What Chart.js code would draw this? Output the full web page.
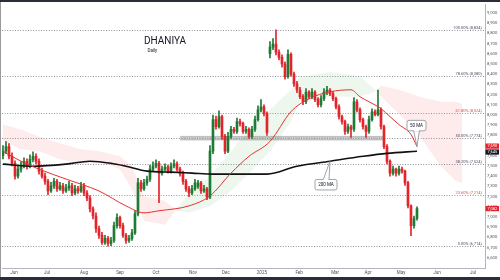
<!DOCTYPE html>
<html>
<head>
<meta charset="utf-8">
<script src="https://cdn.jsdelivr.net/npm/chart.js@4/dist/chart.umd.min.js"></script>
<style>
html,body{margin:0;padding:0;background:#fff;}
canvas{display:block;}
</style>
</head>
<body>
<canvas id="myChart" width="500" height="280"></canvas>
<script>
// daily candles, one entry per bar
const opens = [
7600,7645,7690,7595,7525,7400,7470,7500,7545,7500,
7565,7595,7545,7450,7400,7350,7255,7305,7350,7275,
7305,7255,7285,7305,7235,7275,7255,7305,7235,7185,
7080,7010,6885,6820,6750,6790,6740,6770,6915,6995,
6915,6820,6770,6790,6845,7030,7335,7275,7335,7370,
7470,7500,7525,7430,7470,7490,7450,7500,7520,7470,
7430,7350,7275,7235,7275,7300,7335,7255,7275,7195,
7645,7955,7885,7985,7790,7645,7790,7860,7840,7935,
7915,7840,7860,7790,7860,7955,8050,8080,8015,8600,
8665,8695,8615,8565,8500,8375,8595,8400,8305,8245,
8180,8130,8225,8180,8225,8150,8100,8160,8225,8245,
8210,8160,8080,7985,7935,7840,7885,7860,8130,8050,
7955,7885,7840,7955,8030,8005,8050,7885,7690,7545,
7430,7470,7430,7470,7450,7335,7110,6915,6985]
const highs = [
7700,7740,7720,7630,7550,7500,7540,7580,7570,7610,
7640,7620,7570,7480,7430,7370,7340,7380,7370,7340,
7330,7320,7350,7330,7310,7300,7340,7330,7260,7210,
7100,7040,6910,6850,6820,6810,6800,6950,7030,7010,
6940,6840,6820,6880,7060,7380,7360,7370,7400,7510,
7540,7560,7545,7500,7520,7510,7530,7560,7540,7490,
7450,7370,7300,7310,7370,7360,7350,7310,7290,7700,
8000,7990,8040,8000,7810,7830,7890,7880,7970,7960,
7930,7890,7875,7890,7990,8090,8150,8100,8030,8720,
8750,8834,8640,8590,8520,8640,8610,8420,8330,8270,
8200,8260,8240,8260,8240,8170,8190,8260,8280,8260,
8230,8175,8100,8000,7950,7910,7900,8170,8150,8070,
7970,7900,7990,8060,8050,8245,8070,7900,7710,7560,
7500,7480,7500,7490,7460,7350,7120,7010,7100]
const lows = [
7570,7620,7570,7500,7370,7380,7440,7480,7470,7480,
7540,7520,7420,7380,7320,7220,7240,7280,7250,7260,
7230,7240,7260,7210,7220,7230,7240,7210,7160,7050,
6980,6850,6790,6730,6730,6714,6720,6750,6890,6890,
6800,6740,6750,6770,6830,7010,7250,7260,7310,7350,
7450,7480,7140,7410,7450,7430,7430,7480,7450,7400,
7320,7250,7200,7220,7260,7280,7230,7240,7170,7180,
7620,7860,7870,7760,7620,7630,7770,7820,7820,7890,
7820,7820,7770,7770,7840,7940,8030,7990,7800,8560,
8640,8590,8540,8470,8350,8360,8380,8280,8220,8160,
8100,8110,8160,8160,8130,8080,8080,8140,8200,8190,
8140,8060,7960,7910,7810,7820,7780,7840,8030,7930,
7860,7780,7820,7940,7990,7990,7860,7670,7520,7400,
7410,7400,7410,7430,7310,7090,6818,6890,6970]
const closes = [
7645,7690,7595,7525,7400,7470,7500,7545,7500,7565,
7595,7545,7450,7400,7350,7255,7305,7350,7275,7305,
7255,7285,7305,7235,7275,7255,7305,7235,7185,7080,
7010,6885,6820,6750,6790,6740,6770,6915,6995,6915,
6820,6770,6790,6845,7030,7335,7275,7335,7370,7470,
7500,7525,7430,7470,7490,7450,7500,7520,7470,7430,
7350,7275,7235,7275,7335,7335,7255,7275,7195,7645,
7955,7885,7985,7790,7645,7790,7860,7840,7935,7915,
7840,7860,7790,7860,7955,8050,8080,8015,7830,8665,
8695,8615,8565,8500,8375,8595,8400,8305,8245,8180,
8130,8225,8180,8225,8150,8100,8160,8225,8245,8210,
8160,8080,7985,7935,7840,7885,7860,8130,8050,7955,
7885,7840,7955,8030,8005,8050,7885,7690,7545,7430,
7470,7430,7470,7450,7335,7110,6915,6985,7082]

// moving averages, read at a few bars
const ma50X = [0, 6, 12, 21, 32, 41, 47, 52, 62, 69, 76, 82, 89, 96, 102, 109, 116, 119, 122, 126, 129, 132, 136, 138]
const ma50 = [7644, 7547, 7469, 7372, 7255, 7109, 7041, 7061, 7109, 7207, 7430, 7595, 7741, 8033, 8159, 8227, 8247, 8179, 8130, 8062, 7984, 7906, 7809, 7690]
const ma200X = [0, 10, 21, 29, 36, 41, 48, 56, 63, 70, 88, 98, 109, 120, 128, 138]
const ma200 = [7518, 7498, 7518, 7547, 7527, 7498, 7450, 7440, 7430, 7420, 7420, 7498, 7547, 7595, 7624, 7645]

// ichimoku cloud edges
const spanX = [0, 6, 12, 19, 26, 32, 39, 43, 47, 54, 58, 62, 69, 76, 82, 89, 96, 99, 109, 119, 124, 126, 132, 139, 146, 151, 153]
const spanA = [7741, 7664, 7644, 7566, 7527, 7547, 7469, 7275, 6964, 6925, 7080, 7236, 7401, 7644, 7858, 8052, 8247, 8373, 8422, 8383, 8247, 8179, 8013, 7790, 7498, 7352, 7333]
const spanB = [7906, 7858, 7790, 7722, 7664, 7644, 7595, 7498, 7207, 7158, 7061, 7041, 7109, 7255, 7430, 7644, 7935, 8130, 8179, 8179, 8227, 8286, 8247, 8179, 8130, 8130, 8110]

// fibonacci retracement
const fibPct = ['100.00%', '78.60%', '61.80%', '50.00%', '38.20%', '23.60%', '0.00%']
const fibVals = [8834, 8380, 8024, 7774, 7524, 7214, 6714]
const fibRed = [false, false, true, false, false, true, false]

// support band (bars, price)
const band = [59, 127, 7751, 7795]

const monthLabels = ['Jun', 'Jul', 'Aug', 'Sep', 'Oct', 'Nov', 'Dec', '2025', 'Feb', 'Mar', 'Apr', 'May', 'Jun', 'Jul']
const monthTicks = [3.7, 14.7, 27, 39, 51, 63.3, 74.3, 86.3, 98.7, 110.7, 121.7, 132.7, 144.7, 156.7]
const yTicks = [6600, 6700, 6800, 6900, 7000, 7100, 7200, 7300, 7400, 7500, 7600, 7700, 7800, 7900, 8000, 8100, 8200, 8300, 8400, 8500, 8600, 8700, 8800, 8900, 9000]

const upColor = '#1f7a36'
const downColor = '#e3242b'
const fmt = v => v.toLocaleString('en-US')

function pts(xs, ys){
	return xs.map((x, i) => ({x: x, y: ys[i]}))
}

function roundRect(ctx, x, y, w, h, r){
	ctx.beginPath()
	ctx.moveTo(x + r, y)
	ctx.arcTo(x + w, y, x + w, y + h, r)
	ctx.arcTo(x + w, y + h, x, y + h, r)
	ctx.arcTo(x, y + h, x, y, r)
	ctx.arcTo(x, y, x + w, y, r)
	ctx.closePath()
}

function callout(ctx, tx, ty, cx, cy, w, h, text){
	const top = cy - h / 2, bottom = cy + h / 2
	const baseY = ty > cy ? bottom - 1 : top + 1
	ctx.fillStyle = '#fff'
	ctx.strokeStyle = '#8a8d96'
	ctx.lineWidth = 0.8
	ctx.beginPath()
	ctx.moveTo(cx - 3, baseY)
	ctx.lineTo(tx, ty)
	ctx.lineTo(cx + 3, baseY)
	ctx.closePath()
	ctx.fill()
	ctx.stroke()
	roundRect(ctx, cx - w / 2, top, w, h, 2)
	ctx.fill()
	ctx.stroke()
	ctx.fillStyle = '#fff'
	ctx.fillRect(cx - 2.5, ty > cy ? bottom - 1.5 : top - 0.5, 5, 2)
	ctx.fillStyle = '#131722'
	ctx.font = '4.5px Roboto'
	ctx.textAlign = 'center'
	ctx.textBaseline = 'middle'
	ctx.fillText(text, cx, cy + 0.3)
}

function priceBox(ctx, py, text, color){
	ctx.fillStyle = color
	ctx.fillRect(485.5, py - 2.6, 13.5, 5.2)
	ctx.fillStyle = '#fff'
	ctx.font = '4px Roboto'
	ctx.textAlign = 'center'
	ctx.textBaseline = 'middle'
	ctx.fillText(text, 492.3, py + 0.2)
}

const overlays = {
	id: 'overlays',
	beforeDatasetsDraw(chart){
		const {ctx, chartArea: a, scales: {x, y}} = chart
		ctx.save()
		const bx1 = x.getPixelForValue(band[0]), bx2 = x.getPixelForValue(band[1])
		const by1 = y.getPixelForValue(band[3]), by2 = y.getPixelForValue(band[2])
		ctx.fillStyle = 'rgba(150,150,150,0.6)'
		ctx.fillRect(bx1, by1, bx2 - bx1, by2 - by1)
		ctx.strokeStyle = 'rgba(235,235,235,0.9)'
		ctx.setLineDash([1, 1])
		ctx.lineWidth = 1
		ctx.beginPath()
		ctx.moveTo(bx1, (by1 + by2) / 2)
		ctx.lineTo(bx2, (by1 + by2) / 2)
		ctx.stroke()
		fibVals.forEach((v, i) => {
			const py = Math.round(y.getPixelForValue(v)) + 0.5
			ctx.strokeStyle = fibRed[i] ? 'rgba(220,110,110,0.9)' : '#8f929b'
			ctx.setLineDash([1, 1.6])
			ctx.beginPath()
			ctx.moveTo(a.left, py)
			ctx.lineTo(a.right, py)
			ctx.stroke()
		})
		ctx.restore()
	},
	afterDatasetsDraw(chart){
		const {ctx, chartArea: a, scales: {x, y}} = chart
		ctx.save()
		ctx.font = '4px Roboto'
		ctx.textAlign = 'right'
		ctx.textBaseline = 'alphabetic'
		fibVals.forEach((v, i) => {
			const py = Math.round(y.getPixelForValue(v))
			ctx.fillStyle = fibRed[i] ? '#d9534f' : '#50535e'
			ctx.fillText(fibPct[i] + ' (' + fmt(v) + ')', a.right - 3, py - 1.2)
		})
		ctx.textAlign = 'left'
		ctx.fillStyle = '#131722'
		ctx.font = '10px Roboto'
		ctx.fillText('DHANIYA', 144, 43.5)
		ctx.font = '4.5px Roboto'
		ctx.fillText('Daily', 147.5, 52)
		const t50x = x.getPixelForValue(ma50X[ma50X.length - 1]), t50y = y.getPixelForValue(ma50[ma50.length - 1])
		callout(ctx, t50x, t50y, t50x - 0.5, t50y - 21, 19, 10.5, '50 MA')
		const t200x = x.getPixelForValue(ma200X[12]), t200y = y.getPixelForValue(ma200[12])
		callout(ctx, t200x, t200y, t200x - 4, t200y + 23.5, 22, 10.5, '200 MA')
		ctx.restore()
	},
	afterDraw(chart){
		const {ctx, scales: {y}} = chart
		ctx.save()
		priceBox(ctx, y.getPixelForValue(ma50[ma50.length - 1]) - 0.5, fmt(ma50[ma50.length - 1]), '#e3242b')
		priceBox(ctx, y.getPixelForValue(ma200[ma200.length - 1]) + 0.8, fmt(ma200[ma200.length - 1]), '#131722')
		priceBox(ctx, y.getPixelForValue(closes[closes.length - 1]), fmt(closes[closes.length - 1]), '#e3242b')
		ctx.fillStyle = '#2a2e39'
		ctx.fillRect(0, 0, 500, 2)
		ctx.fillRect(0, 277, 500, 3)
		ctx.fillStyle = '#9a9a9a'
		ctx.fillRect(0, 2, 1, 275)
		ctx.restore()
	}
}

const ctx = document.getElementById('myChart').getContext('2d')
new Chart(ctx, {
	type: 'bar',
	data: {
		datasets: [
			{
				type: 'line', data: pts(spanX, spanA), borderWidth: 0, pointRadius: 0,
				tension: 0, order: 10,
				fill: {target: 1, above: 'rgba(76,175,80,0.10)', below: 'rgba(242,54,69,0.10)'}
			},
			{
				type: 'line', data: pts(spanX, spanB), borderWidth: 0, pointRadius: 0,
				tension: 0, order: 10, fill: false
			},
			{
				data: closes.map((c, i) => ({x: i, y: [lows[i], highs[i]]})),
				backgroundColor: closes.map((c, i) => c >= opens[i] ? upColor : downColor),
				barThickness: 1, grouped: false, order: 3
			},
			{
				data: closes.map((c, i) => ({x: i, y: [opens[i], c]})),
				backgroundColor: closes.map((c, i) => c >= opens[i] ? upColor : downColor),
				barThickness: 2, minBarLength: 1, grouped: false, order: 2
			},
			{
				type: 'line', data: pts(ma50X, ma50), borderColor: '#e3312f', borderWidth: 1,
				pointRadius: 0, cubicInterpolationMode: 'monotone', fill: false, order: 1
			},
			{
				type: 'line', data: pts(ma200X, ma200), borderColor: '#111', borderWidth: 1.6,
				pointRadius: 0, cubicInterpolationMode: 'monotone', fill: false, order: 1
			}
		]
	},
	options: {
		responsive: false,
		animation: false,
		devicePixelRatio: 1,
		layout: {padding: {top: 2, bottom: 3, left: 2, right: 0}},
		plugins: {legend: {display: false}, tooltip: {enabled: false}},
		scales: {
			x: {
				type: 'linear', min: -0.33, max: 160.67, offset: false,
				grid: {display: false, drawTicks: false},
				border: {display: true, color: '#b2b5be'},
				afterBuildTicks: ax => { ax.ticks = monthTicks.map(v => ({value: v})) },
				afterFit: ax => { ax.height = 9 },
				ticks: {
					autoSkip: false, maxRotation: 0, padding: 2, color: '#50535e',
					font: {size: 4.5, family: 'Roboto'},
					callback: (v, i) => monthLabels[i]
				}
			},
			y: {
				position: 'right', min: 6500, max: 9083,
				grid: {display: false, drawTicks: false},
				border: {display: true, color: '#b2b5be'},
				afterBuildTicks: ax => { ax.ticks = yTicks.map(v => ({value: v})) },
				afterFit: ax => { ax.width = 15 },
				ticks: {
					padding: 2, color: '#50535e',
					font: {size: 4.2, family: 'Roboto'},
					callback: v => fmt(v)
				}
			}
		}
	},
	plugins: [overlays]
})
</script>
</body>
</html>
